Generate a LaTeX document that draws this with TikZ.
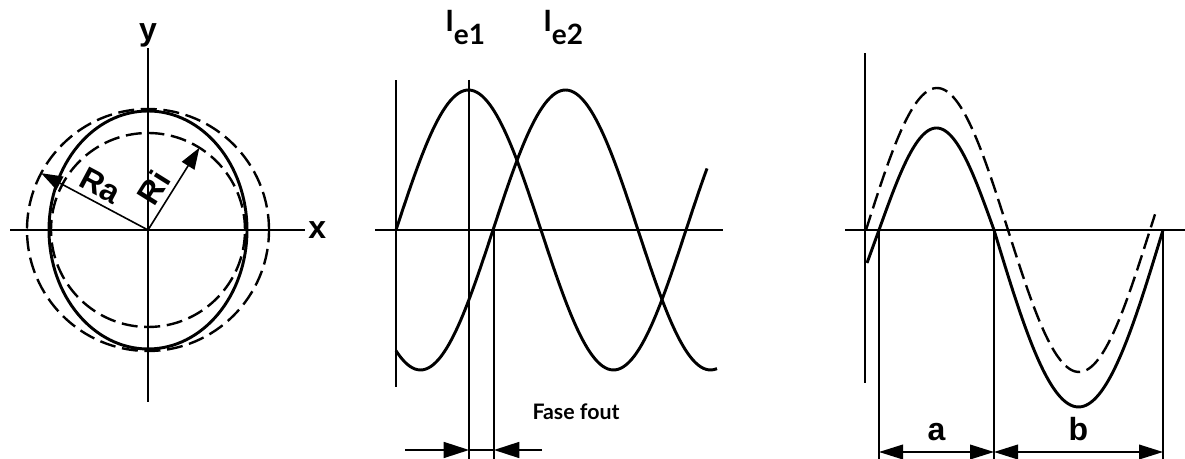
\documentclass[tikz,border=0pt]{standalone}
\usepackage{fontspec}
\setmainfont{Liberation Sans}
\newfontfamily\gillfont{Lato}
\usetikzlibrary{arrows.meta}
\begin{document}
\begin{tikzpicture}[x=0.75pt,y=0.75pt,
  axis/.style={line width=1.2pt},
  curve/.style={line width=2.2pt},
  dashcurve/.style={line width=1.8pt, dash pattern=on 12pt off 5pt},
  radius arrow/.style={line width=1.2pt, -{Triangle[length=16pt,width=11pt]}},
  dim arrow/.style={line width=1.2pt, -{Triangle[length=19pt,width=12pt]}},
  dim both/.style={line width=1.2pt, {Triangle[length=18pt,width=11pt]}-{Triangle[length=18pt,width=11pt]}},
  big label/.style={font=\fontsize{24}{24}\selectfont\bfseries, inner sep=0pt},
  radius label/.style={font=\fontsize{24}{24}\selectfont\bfseries, inner sep=0pt},
  current label/.style={font=\gillfont\bfseries\fontsize{22}{22}\selectfont, inner sep=0pt, anchor=base west}]
\useasboundingbox (0,0) rectangle (1185,459);

% cross section
\coordinate (C) at (148,229);
\draw[axis] (10,229) -- (305,229) node[big label, anchor=west, xshift=2pt] (xlab) {x};
\draw[axis] (148,57) -- (148,411) node[big label, anchor=south] (ylab) {y};
\draw[dashcurve] (C) circle [radius=121];
\draw[dashcurve] (C) circle [radius=97];
\draw[curve] (C) ellipse [x radius=99, y radius=119];
\draw[radius arrow] (C) -- ++(152:121) node[radius label, pos=0.52, sloped, above=4pt] (ra) {Ra};
\draw[radius arrow] (C) -- ++(58:97) node[radius label, pos=0.4, sloped, above=4pt] (ri) {Ri};

% two currents
\draw[axis] (375,229) -- (723,229);
\draw[axis] (396,72) -- (396,379);
\draw[curve] plot[domain=396:707, samples=120, smooth] (\x, {229+140*sin((\x-396)*1.2414)});
\draw[curve] plot[domain=396:717, samples=120, smooth] (\x, {229+140*sin((\x-493)*1.2414)});
\node[current label] (ie1) at (445,427) {I\raisebox{-9.75pt}{\fontsize{21}{21}\selectfont e1}};
\node[current label] (ie2) at (543,427) {I\raisebox{-9.75pt}{\fontsize{21}{21}\selectfont e2}};
\coordinate (peak1) at (469,0);
\coordinate (zero2) at (494,0);
\draw[axis] (469,379) -- (peak1);
\draw[axis] (494,229) -- (zero2);
\coordinate (f1) at (405,9);
\coordinate (f2) at (469,9);
\coordinate (f3) at (494,9);
\coordinate (f4) at (542,9);
\draw[axis] (f2) -- (f3);
\draw[dim arrow] (f1) -- (f2);
\draw[dim arrow] (f4) -- (f3);
\node[font=\gillfont\bfseries\fontsize{16}{16}\selectfont, anchor=base] (fout) at (576,39) {Fase fout};

% distorted wave
\draw[axis] (845,229) -- (1185,229);
\draw[axis] (865,76) -- (865,406);
\draw[dashcurve] plot[domain=866:1155, samples=120, smooth] (\x, {229+142*sin((\x-866)*1.2676)});
\draw[curve] (867,196) -- (879,229)
  -- plot[domain=879:994, samples=60, smooth] (\x, {229+102*sin((\x-879)*1.5652)})
  -- plot[domain=994:1163, samples=80, smooth] (\x, {229-177*sin((\x-994)*1.0651)});
\coordinate (a0) at (879,7);
\coordinate (a1) at (994,7);
\coordinate (b1) at (1163,7);
\draw[axis] (879,229) -- (879,0);
\draw[axis] (994,229) -- (994,0);
\draw[axis] (1163,229) -- (1163,0);
\draw[dim both] (a0) -- (a1) node[big label, midway, above=8pt] (alab) {a};
\draw[dim both] (a1) -- (b1) node[big label, midway, above=8pt] (blab) {b};
\end{tikzpicture}
\end{document}
